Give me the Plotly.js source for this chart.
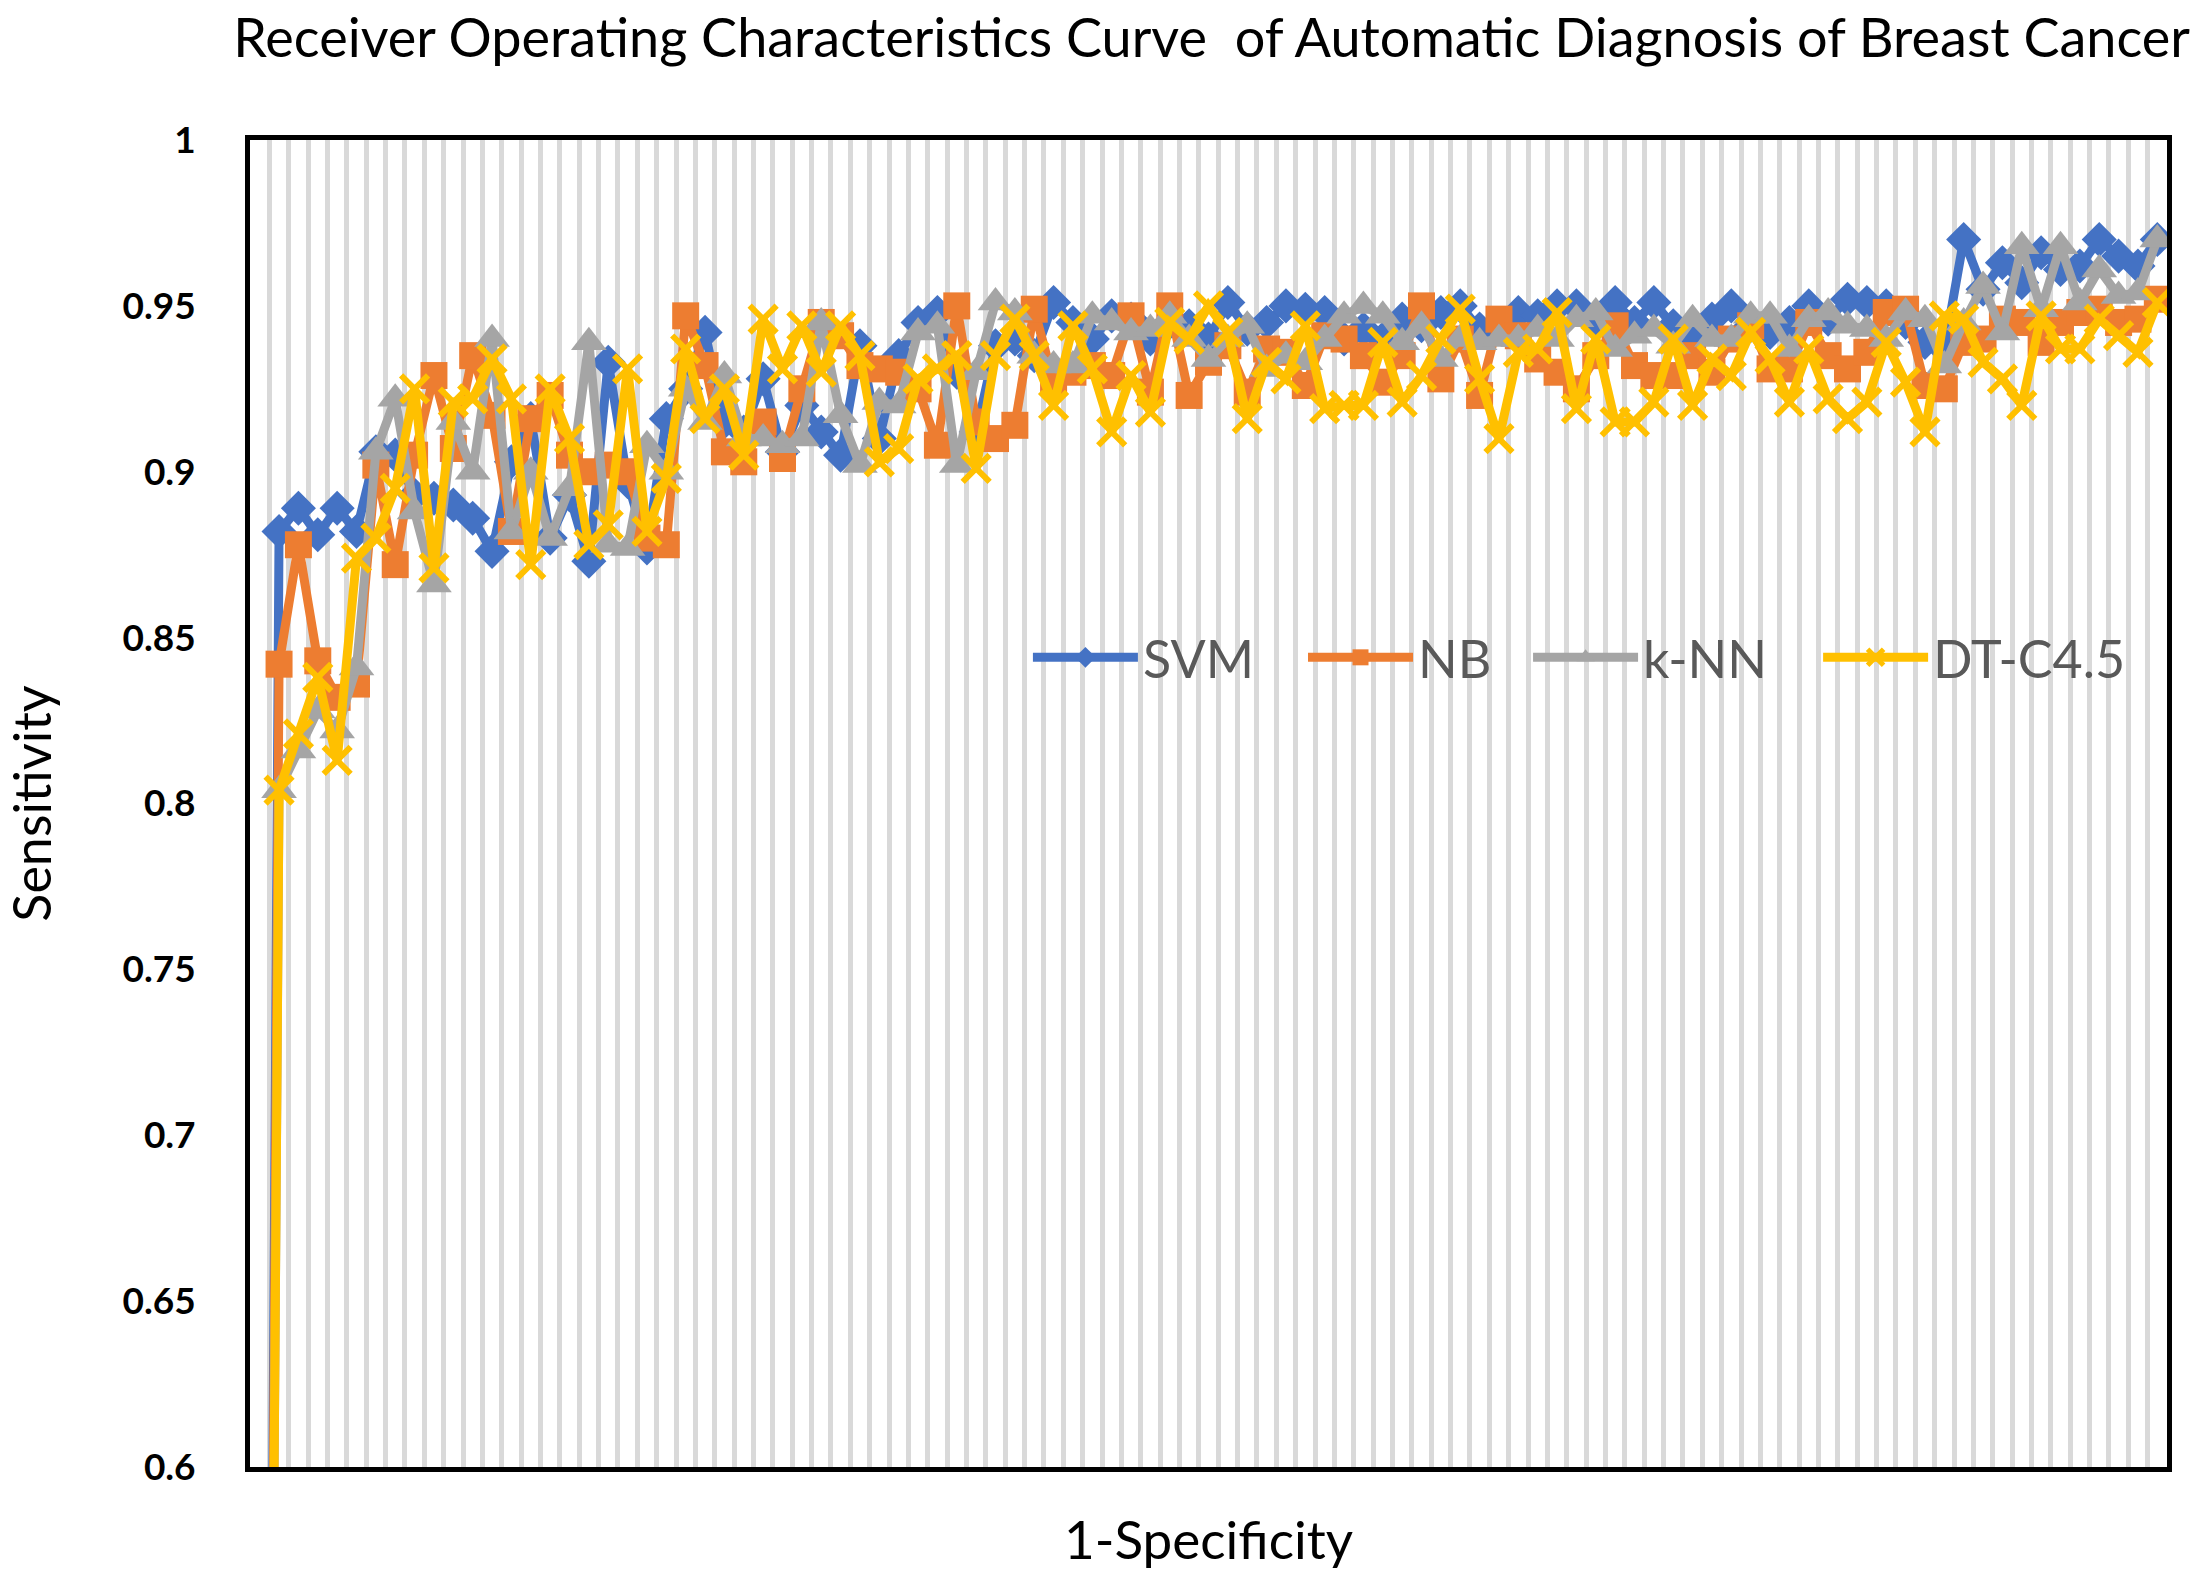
<!DOCTYPE html>
<html>
<head>
<meta charset="utf-8">
<script src="https://cdn.plot.ly/plotly-3.0.1.min.js"></script>
<style>html,body{margin:0;padding:0;background:#fff;}#chart{width:2211px;height:1588px;}</style>
</head>
<body>
<div id="chart"></div>
<script>
const seriesNames = ["SVM", "NB", "k-NN", "DT-C4.5"];
const seriesColors = ["#4472C4", "#ED7D31", "#A5A5A5", "#FFC000"];

const svm = [0, 0.882, 0.889, 0.881, 0.889, 0.882, 0.906, 0.905, 0.893, 0.892,
  0.890, 0.886, 0.876, 0.903, 0.916, 0.880, 0.893, 0.873, 0.933, 0.897,
  0.877, 0.916, 0.925, 0.942, 0.915, 0.912, 0.928, 0.906, 0.920, 0.912,
  0.905, 0.938, 0.910, 0.935, 0.945, 0.948, 0.930, 0.912, 0.938, 0.940,
  0.935, 0.951, 0.945, 0.940, 0.947, 0.946, 0.940, 0.945, 0.944, 0.940,
  0.951, 0.943, 0.945, 0.950, 0.949, 0.948, 0.940, 0.943, 0.940, 0.946,
  0.944, 0.948, 0.950, 0.943, 0.944, 0.948, 0.947, 0.950, 0.950, 0.945,
  0.951, 0.945, 0.951, 0.944, 0.940, 0.946, 0.950, 0.944, 0.942, 0.945,
  0.950, 0.946, 0.952, 0.951, 0.950, 0.945, 0.939, 0.937, 0.970, 0.955,
  0.963, 0.957, 0.966, 0.961, 0.962, 0.970, 0.965, 0.962, 0.970];

const nb = [0, 0.842, 0.878, 0.843, 0.832, 0.836, 0.902, 0.872, 0.905, 0.929,
  0.907, 0.935, 0.917, 0.882, 0.916, 0.923, 0.905, 0.900, 0.902, 0.900,
  0.880, 0.878, 0.947, 0.932, 0.906, 0.903, 0.915, 0.904, 0.925, 0.945,
  0.941, 0.932, 0.931, 0.930, 0.925, 0.908, 0.950, 0.915, 0.910, 0.914,
  0.949, 0.927, 0.930, 0.932, 0.929, 0.947, 0.924, 0.950, 0.923, 0.933,
  0.938, 0.924, 0.937, 0.936, 0.926, 0.941, 0.940, 0.935, 0.927, 0.935,
  0.950, 0.928, 0.940, 0.923, 0.946, 0.941, 0.934, 0.930, 0.925, 0.935,
  0.944, 0.932, 0.929, 0.929, 0.935, 0.930, 0.940, 0.944, 0.931, 0.931,
  0.945, 0.935, 0.931, 0.936, 0.948, 0.949, 0.926, 0.925, 0.939, 0.940,
  0.946, 0.945, 0.939, 0.945, 0.948, 0.949, 0.945, 0.946, 0.952];

const knn = [0, 0.804, 0.816, 0.828, 0.822, 0.841, 0.906, 0.922, 0.888, 0.866,
  0.915, 0.900, 0.940, 0.882, 0.900, 0.880, 0.895, 0.939, 0.878, 0.877,
  0.908, 0.900, 0.925, 0.915, 0.929, 0.910, 0.910, 0.908, 0.910, 0.945,
  0.917, 0.902, 0.921, 0.920, 0.942, 0.944, 0.902, 0.930, 0.951, 0.948,
  0.935, 0.932, 0.932, 0.947, 0.945, 0.942, 0.943, 0.947, 0.940, 0.934,
  0.940, 0.944, 0.931, 0.935, 0.933, 0.940, 0.947, 0.950, 0.947, 0.939,
  0.944, 0.934, 0.940, 0.939, 0.940, 0.940, 0.943, 0.940, 0.946, 0.948,
  0.937, 0.941, 0.943, 0.938, 0.946, 0.940, 0.940, 0.947, 0.947, 0.937,
  0.946, 0.948, 0.944, 0.943, 0.940, 0.948, 0.946, 0.932, 0.945, 0.956,
  0.942, 0.968, 0.949, 0.968, 0.951, 0.961, 0.953, 0.954, 0.970];

const dt = [0, 0.804, 0.821, 0.838, 0.813, 0.874, 0.880, 0.895, 0.925, 0.871,
  0.921, 0.922, 0.934, 0.922, 0.872, 0.925, 0.910, 0.878, 0.884, 0.931,
  0.882, 0.898, 0.937, 0.916, 0.925, 0.905, 0.946, 0.931, 0.944, 0.930,
  0.944, 0.935, 0.903, 0.907, 0.928, 0.931, 0.935, 0.901, 0.935, 0.946,
  0.935, 0.920, 0.944, 0.931, 0.912, 0.929, 0.918, 0.945, 0.940, 0.950,
  0.942, 0.916, 0.933, 0.928, 0.944, 0.919, 0.920, 0.920, 0.939, 0.921,
  0.929, 0.940, 0.949, 0.928, 0.910, 0.936, 0.937, 0.948, 0.919, 0.940,
  0.915, 0.915, 0.921, 0.940, 0.920, 0.934, 0.929, 0.942, 0.934, 0.921,
  0.937, 0.922, 0.916, 0.921, 0.939, 0.927, 0.912, 0.947, 0.946, 0.933,
  0.928, 0.920, 0.947, 0.937, 0.937, 0.946, 0.941, 0.936, 0.951];

const categories = svm.map((_, i) => i + 1);
const yTickVals = [0.6, 0.65, 0.7, 0.75, 0.8, 0.85, 0.9, 0.95, 1];
const yTickText = ["0.6", "0.65", "0.7", "0.75", "0.8", "0.85", "0.9", "0.95", "1"];

const FONT = "Lato, 'Open Sans', sans-serif";
const allSeries = [svm, nb, knn, dt];
const markerDefs = [
  {symbol: "diamond", size: 27},
  {symbol: "square", size: 27},
  {symbol: "triangle-up", size: 31},
  {symbol: "x-thin", size: 27}
];
const legendIds = ["legend", "legend2", "legend3", "legend4"];
const legendX = [0.4058, 0.5493, 0.6667, 0.8180];

const traces = allSeries.map((vals, k) => {
  const m = markerDefs[k];
  const marker = {symbol: m.symbol, size: m.size, color: seriesColors[k]};
  if (m.symbol === "x-thin") {
    marker.line = {width: 6, color: seriesColors[k]};
  } else {
    marker.line = {width: 0};
  }
  return {
    type: "scatter",
    mode: "lines+markers",
    name: seriesNames[k],
    legend: legendIds[k],
    x: categories,
    y: vals,
    line: {color: seriesColors[k], width: 9},
    marker: marker
  };
});

const layout = {
  width: 2211,
  height: 1588,
  margin: {l: 250, r: 44, t: 140, b: 121},
  paper_bgcolor: "#ffffff",
  plot_bgcolor: "#ffffff",
  font: {family: FONT, color: "#000000"},
  title: {
    text: "Receiver Operating Characteristics Curve  of Automatic Diagnosis of Breast Cancer",
    font: {family: FONT, size: 54, color: "#000000"},
    x: 0.548, xanchor: "center",
    y: 0.976, yanchor: "middle", yref: "container"
  },
  xaxis: {
    range: [0.5, categories.length + 0.5],
    tick0: 0.5, dtick: 1,
    showgrid: true, gridcolor: "#D9D9D9", gridwidth: 5,
    showticklabels: false, ticks: "",
    zeroline: false,
    showline: true, mirror: true, linecolor: "#000000", linewidth: 5,
    title: {text: "1-Specificity", font: {family: FONT, size: 53, color: "#000000"}, standoff: 52}
  },
  yaxis: {
    range: [0.6, 1.0],
    tickvals: yTickVals, ticktext: yTickText,
    showgrid: false, zeroline: false,
    ticks: "", ticklabelstandoff: 42,
    tickfont: {family: FONT, size: 37, color: "#000000", weight: "bold"},
    showline: true, mirror: true, linecolor: "#000000", linewidth: 5,
    title: {text: "Sensitivity", font: {family: FONT, size: 52, color: "#000000"}, standoff: 56}
  },
  showlegend: true
};

legendIds.forEach((id, k) => {
  layout[id] = {
    orientation: "h",
    x: legendX[k], xanchor: "left",
    y: 0.61, yanchor: "middle",
    bgcolor: "rgba(0,0,0,0)",
    font: {family: FONT, size: 52, color: "#595959"},
    itemwidth: 105
  };
});

Plotly.newPlot("chart", traces, layout, {displayModeBar: false, staticPlot: true});
</script>
</body>
</html>
